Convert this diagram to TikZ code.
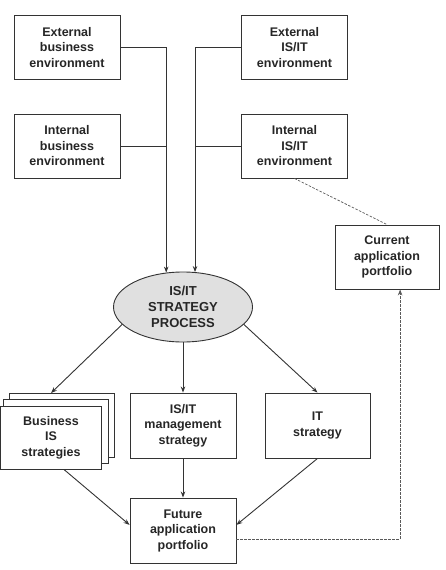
\documentclass[tikz,border=0pt]{standalone}
\usepackage{fontspec}
\setmainfont{Liberation Sans}
\usepackage{tikz}
\usetikzlibrary{arrows.meta,positioning,shapes.geometric}

\begin{document}
\begin{tikzpicture}[
    x=1pt, y=-1pt,
    box/.style={rectangle, draw=black!80, line width=0.9pt, fill=white, minimum width=106pt, minimum height=64pt, align=center, inner sep=1pt, font=\fontsize{12.5}{15.5}\selectfont\bfseries, text=black!85},
    proc/.style={ellipse, draw=black!80, line width=0.9pt, fill=black!12, minimum width=139pt, minimum height=70pt, align=center, inner sep=0pt, font=\fontsize{13}{16}\selectfont\bfseries, text=black!85},
    arrow/.style={-{Stealth[length=6pt,width=4.5pt]}, line width=0.9pt, draw=black!80},
    dashline/.style={dash pattern=on 2.5pt off 1.5pt, line width=0.7pt, draw=black!65},
    dasharrow/.style={dashline, -{Stealth[length=6pt,width=4.5pt]}}
]
\useasboundingbox (0,0) rectangle (445,570);

% Environment boxes
\node[box] (extbus) at (67,47.5) {External\\business\\environment};
\node[box] (intbus) at (67,146) {Internal\\business\\environment};
\node[box] (extit) at (294.5,47.5) {External\\IS/IT\\environment};
\node[box] (intit) at (294.5,146) {Internal\\IS/IT\\environment};

% Strategy process
\node[proc] (proc) at (183,307) {IS/IT\\STRATEGY\\PROCESS};

% Current portfolio
\node[box, minimum width=104pt] (current) at (387,257) {Current\\application\\portfolio};

% Strategies
\node[box, minimum width=105pt] (busis3) at (61.5,425.5) {};
\node[box, minimum width=105pt] (busis2) at (56,431.5) {};
\node[box, minimum width=101pt, minimum height=63pt] (busis) at (51,437.5) {Business\\IS\\strategies};
\node[box, minimum height=65pt] (mgmt) at (183,425.5) {IS/IT\\management\\strategy};
\node[box, minimum width=105pt, minimum height=65pt] (itstr) at (317.5,425.5) {IT\\strategy};

% Future portfolio
\node[box, minimum height=65pt] (future) at (183,530.5) {Future\\application\\portfolio};

% Inputs to the process
\draw[arrow] (extbus.east) -| (proc.116);
\draw[line width=0.9pt, black!80] (intbus.east) -- (intbus.east -| proc.116);
\draw[arrow] (extit.west) -| (proc.71);
\draw[line width=0.9pt, black!80] (intit.west) -- (intit.west -| proc.71);

% Outputs of the process
\draw[arrow] (proc.196) -- (busis.north |- busis3.north);
\draw[arrow] (proc.south) -- (mgmt.north);
\draw[arrow] (proc.-16) -- (itstr.north);

% Into future portfolio
\draw[arrow] (busis.-68) -- (future.174);
\draw[arrow] (mgmt.south) -- (future.north);
\draw[arrow] (itstr.south) -- (future.6);

% Portfolio links
\draw[dashline] (intit.south) -- (current.north);
\draw[dasharrow] (future.-9) -| (current.-68);

\end{tikzpicture}
\end{document}
